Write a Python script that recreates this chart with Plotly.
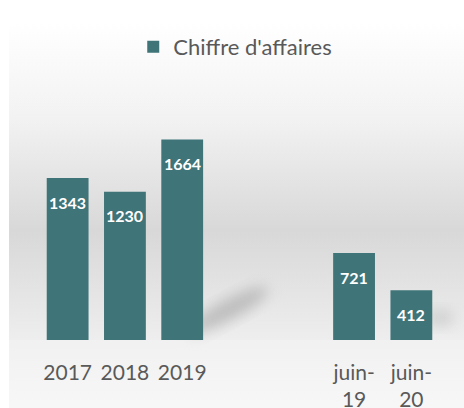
import base64
import plotly.graph_objects as go

# ---- data ----
categories = ["2017", "2018", "2019", "", "", "juin-19", "juin-20"]
tick_labels = ["2017", "2018", "2019", "", "", "juin-<br>19", "juin-<br>20"]
values = [1343, 1230, 1664, None, None, 721, 412]
series_name = "Chiffre d'affaires"

W, H = 464, 408
ML, MR, MT, MB = 39, 24, 123, 68
PW, PH = W - ML - MR, H - MT - MB
BAR = "#3f7479"

positions = list(range(len(categories)))
bx = [p for p, v in zip(positions, values) if v is not None]
by = [v for v in values if v is not None]

# background gradient as an SVG image
svg = f'''<svg xmlns="http://www.w3.org/2000/svg" width="{W}" height="{H}" viewBox="0 0 {W} {H}">
<defs>
<linearGradient id="g" x1="0" y1="0" x2="0" y2="1">
<stop offset="0" stop-color="#ffffff"/>
<stop offset="0.25" stop-color="#f2f2f2"/>
<stop offset="0.54" stop-color="#d8d8d8"/>
<stop offset="0.8" stop-color="#ececec"/>
<stop offset="1" stop-color="#fbfbfb"/>
</linearGradient>
<filter id="b" x="-50%" y="-50%" width="200%" height="200%"><feGaussianBlur stdDeviation="7"/></filter>
</defs>
<rect x="9" y="23" width="{W-9}" height="{H-23}" fill="url(#g)"/>
<rect x="9" y="340" width="{W-9}" height="{H-340}" fill="#f3f3f3" opacity="0.5"/>
<ellipse cx="228" cy="310" rx="45" ry="10" transform="rotate(-28 228 310)" fill="#9a9a9a" opacity="0.55" filter="url(#b)"/>
<ellipse cx="440" cy="318" rx="14" ry="8" fill="#a8a8a8" opacity="0.4" filter="url(#b)"/>
</svg>'''
src = "data:image/svg+xml;base64," + base64.b64encode(svg.encode()).decode()

fig = go.Figure()
fig.add_trace(go.Bar(
    x=bx, y=by, name=series_name, width=0.73,
    marker=dict(color=BAR, line=dict(width=0)),
    showlegend=True, hoverinfo="skip",
))

for p, v in zip(bx, by):
    fig.add_annotation(
        x=p, y=v, xref="x", yref="y", text=f"<b>{v}</b>", showarrow=False,
        yshift=-24, font=dict(family="Lato", size=16, color="white"),
    )

fig.update_layout(
    width=W, height=H,
    margin=dict(l=ML, r=MR, t=MT, b=MB, pad=0, autoexpand=False),
    paper_bgcolor="white", plot_bgcolor="rgba(0,0,0,0)",
    font=dict(family="Lato", color="#595959"),
    images=[dict(source=src, xref="paper", yref="paper",
                 x=-ML / PW, y=1 + MT / PH, sizex=W / PW, sizey=H / PH,
                 xanchor="left", yanchor="top", sizing="stretch", layer="below")],
    legend=dict(orientation="h", x=0.507, xanchor="center", xref="container",
                y=1 - 47 / H, yanchor="middle", yref="container",
                font=dict(family="Lato", size=22, color="#595959"),
                bgcolor="rgba(0,0,0,0)"),
    xaxis=dict(range=[-0.5, len(categories) - 0.5], automargin=False,
               tickmode="array", tickvals=positions, ticktext=tick_labels,
               showgrid=False, zeroline=False, showline=False, ticks="",
               tickfont=dict(family="Lato", size=21, color="#595959"),
               ticklabelstandoff=18, fixedrange=True),
    yaxis=dict(range=[0, 1800], visible=False, fixedrange=True, automargin=False),
)

fig.write_html("out.html", config={"displayModeBar": False},
               post_script="document.body.style.margin='0';")
